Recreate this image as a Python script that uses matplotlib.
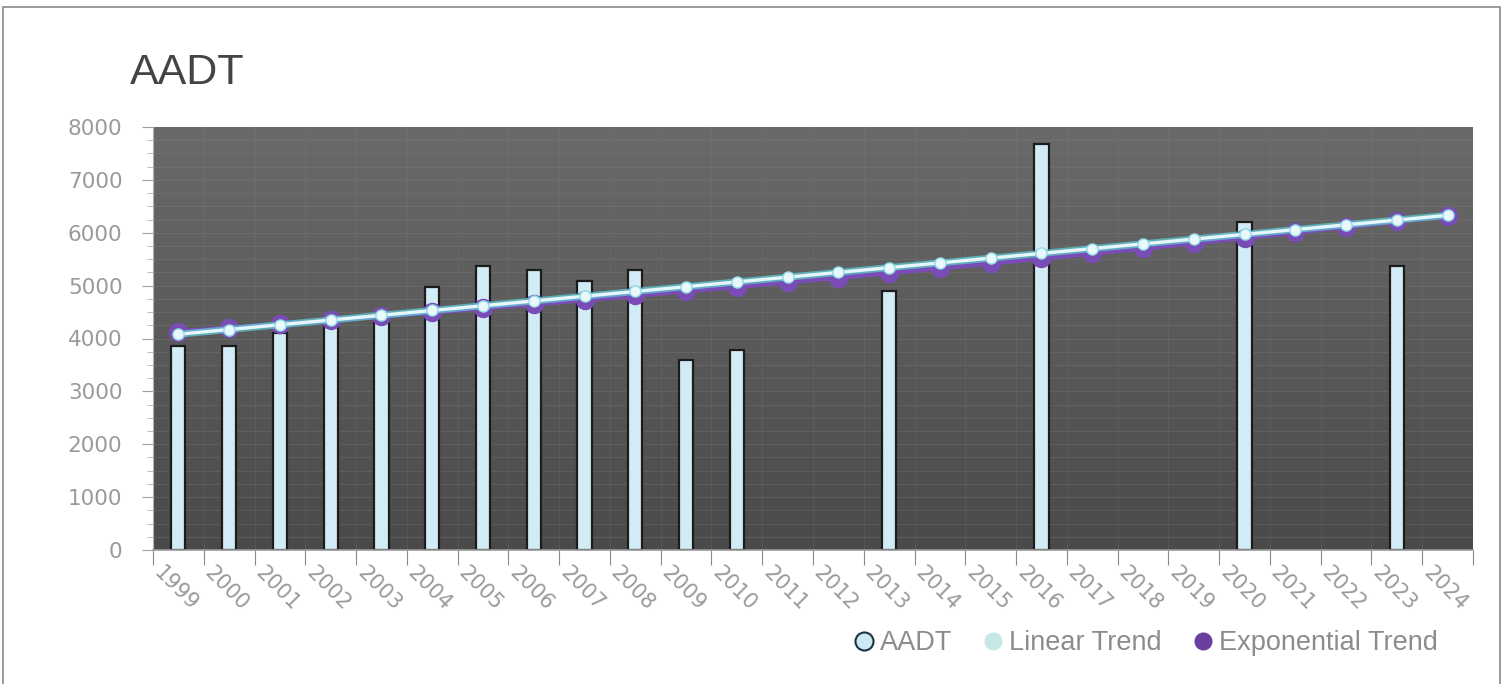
import numpy as np
import matplotlib.pyplot as plt
from matplotlib.colors import LinearSegmentedColormap
from matplotlib.lines import Line2D
from matplotlib.patches import Rectangle

plt.rcParams['font.family'] = ['Liberation Sans', 'DejaVu Sans']

# yearly counts, None where no count was taken
years = [str(y) for y in range(1999, 2025)]
aadt = [3860, 3860, 4100, 4300, 4450, 4980, 5370, 5300, 5090, 5300, 3590, 3780,
        None, None, 4890, None, None, 7675, None, None, None, 6200, None, None, 5370, None]
linear_trend = [4080, 4170, 4260, 4350, 4440, 4530, 4620, 4710, 4800, 4890, 4980, 5070, 5160,
                5250, 5340, 5430, 5520, 5610, 5700, 5790, 5880, 5970, 6060, 6150, 6240, 6330]
exp_trend = [4130, 4200, 4270, 4345, 4420, 4495, 4575, 4650, 4730, 4815, 4895, 4980, 5065,
             5150, 5240, 5330, 5420, 5515, 5610, 5705, 5805, 5905, 6005, 6110, 6215, 6320]

fig = plt.figure(figsize=(15.11, 6.84), dpi=100)
ax = fig.add_axes([153 / 1511, 1 - 550 / 684, 1320 / 1511, 423 / 684])

# outer frame
fig.patches.append(Rectangle((3 / 1511, -0.02), 1497 / 1511, 1.02 - 7 / 684,
                             transform=fig.transFigure, fill=False,
                             edgecolor='#8a8a8a', linewidth=1.2))

# dark gradient background for the plot area
grad = np.linspace(0, 1, 256).reshape(-1, 1)
ax.imshow(grad, extent=[0, 1, 0, 1], transform=ax.transAxes, aspect='auto',
          cmap=LinearSegmentedColormap.from_list('bg', ['#6a6a6a', '#4a4a4a']), zorder=0)

x = np.arange(len(years))
ax.set_xlim(-0.5, len(years) - 0.5)
ax.set_ylim(0, 8000)

# faint grid
for v in np.arange(250, 8000, 250):
    ax.axhline(v, color='#8a8a8a', lw=0.8, alpha=0.25, zorder=1)
for b in np.arange(len(years)) + 0.5:
    ax.axvline(b, color='#8a8a8a', lw=0.8, alpha=0.15, zorder=1)

bx = [i for i, v in enumerate(aadt) if v is not None]
bv = [v for v in aadt if v is not None]
ax.bar(bx, bv, width=0.28, color='#d2ecf6', edgecolor='#1c1c1c', linewidth=1.6, zorder=2)

ax.plot(x, exp_trend, color='#7a4cb6', lw=3.5, marker='o', markersize=14,
        markeredgewidth=0, zorder=3, solid_capstyle='round')
ax.plot(x, linear_trend, color='#5fd0d8', lw=5, alpha=0.7, zorder=4, solid_capstyle='round')
ax.plot(x, linear_trend, color='#e6f6fa', lw=2.4, marker='o', markersize=8,
        markerfacecolor='#eaf8fb', markeredgecolor='#8fdde4', markeredgewidth=1.0, zorder=5)

# axes styling
for s in ['top', 'right']:
    ax.spines[s].set_visible(False)
ax.spines['left'].set_color('#b0b0b0')
ax.spines['bottom'].set_color('#9a9a9a')
ax.spines['bottom'].set_linewidth(1.2)

ax.set_yticks(np.arange(0, 8001, 1000))
ax.set_yticks(np.arange(0, 8001, 250), minor=True)
ax.tick_params(axis='y', which='major', length=8, color='#a0a0a0', labelcolor='#9a9a9a',
               labelsize=15.5, pad=14)
ax.tick_params(axis='y', which='minor', length=4, color='#b0b0b0')
for lbl in ax.get_yticklabels():
    lbl.set_fontfamily(['DejaVu Sans'])

ax.set_xticks(np.arange(len(years) + 1) - 0.5)
ax.set_xticklabels(years + [''], rotation=-45, ha='left', va='baseline', rotation_mode='anchor')
ax.tick_params(axis='x', length=11, color='#8a8a8a', labelcolor='#9a9a9a', labelsize=15, pad=6)
for lbl in ax.get_xticklabels():
    lbl.set_fontfamily(['DejaVu Sans'])

fig.text(130 / 1511, 1 - 73 / 684, 'AADT', fontsize=31, color='#444444',
         ha='left', va='center')

handles = [
    Line2D([], [], marker='o', linestyle='none', markersize=13, markerfacecolor='#cfe9f4',
           markeredgecolor='#1c3540', markeredgewidth=1.5),
    Line2D([], [], marker='o', linestyle='none', markersize=13, markerfacecolor='#c6e9e8',
           markeredgewidth=0),
    Line2D([], [], marker='o', linestyle='none', markersize=13, markerfacecolor='#6a3fa0',
           markeredgewidth=0),
]
leg = fig.legend(handles, ['AADT', 'Linear Trend', 'Exponential Trend'], ncol=3,
                 loc='center right', bbox_to_anchor=(1462 / 1511, 1 - 643 / 684),
                 frameon=False, fontsize=19.5, handletextpad=0.1, columnspacing=1.0,
                 handlelength=1.0, labelcolor='#8c8c8c')

fig.savefig('out.png', dpi=100)
